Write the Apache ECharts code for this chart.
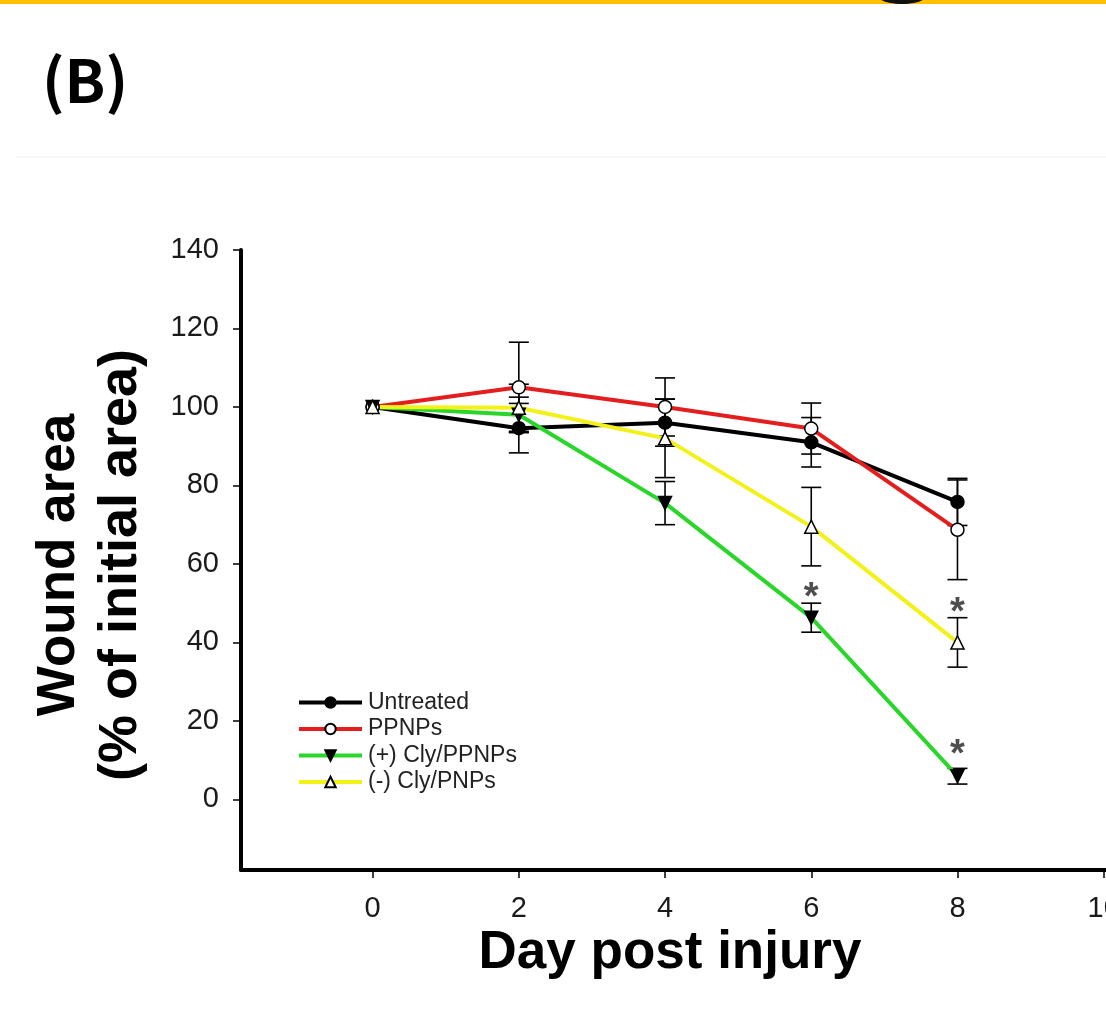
<!DOCTYPE html>
<html>
<head>
<meta charset="utf-8">
<script src="https://cdn.jsdelivr.net/npm/echarts@6/dist/echarts.min.js"></script>
<style>
  html, body { margin: 0; padding: 0; background: #fff; }
  #chart { width: 1106px; height: 1009px; }
</style>
</head>
<body>
<div id="chart"></div>
<script>
// days and y ticks
var days = [0, 2, 4, 6, 8];
var xTicks = [0, 2, 4, 6, 8, 10];
var yTicks = [0, 20, 40, 60, 80, 100, 120, 140];

// wound area (% of initial) and error
var untreated = [100, 94.6, 96, 91, 75.8];
var untreatedErr = [0, 6.3, 6, 6.3, 6];
var ppnps = [100, 105, 100, 94.5, 68.7];
var ppnpsErr = [0, 11.5, 7.4, 6.5, 12.7];
var clyPos = [100, 98, 75.5, 46.3, 5.9];
var clyPosErr = [0, 4.5, 5.5, 3.7, 2];
var clyNeg = [100, 99.8, 92, 69.5, 40];
var clyNegErr = [0, 6, 10, 10, 6.3];

// significance marks
var stars = [[6, 53.5], [8, 49.7], [8, 13.5]];

var names = ['Untreated', 'PPNPs', '(+) Cly/PPNPs', '(-) Cly/PNPs'];

var font = 'Liberation Sans, Arial, sans-serif';

var pairs = function (ys) {
    return days.map(function (d, i) { return [d, ys[i]]; });
};

// error bar rows: [x, low, high]
var errRows = [];
[[untreated, untreatedErr], [ppnps, ppnpsErr], [clyPos, clyPosErr], [clyNeg, clyNegErr]].forEach(function (s) {
    for (var i = 0; i < days.length; i++) {
        if (s[1][i] > 0)
            errRows.push([days[i], s[0][i] - s[1][i], s[0][i] + s[1][i]]);
    }
});

var lineSeries = function (name, ys, lineColor, symbol, fill, rotate) {
    return {
        name: name,
        type: 'line',
        data: pairs(ys),
        symbol: symbol,
        symbolSize: 13,
        symbolRotate: rotate || 0,
        lineStyle: { color: lineColor, width: 4 },
        itemStyle: { color: fill, borderColor: '#000', borderWidth: 1.5 },
        emphasis: { disabled: true },
        z: 2
    };
};

var chart = echarts.init(document.getElementById('chart'));

var option = {
    backgroundColor: '#fff',
    animation: false,
    grid: { left: 241, top: 250, right: -5, bottom: 139, outerBoundsMode: 'none', containLabel: false },
    xAxis: {
        type: 'value',
        min: -1.8,
        max: 10.1,
        splitLine: { show: false },
        axisLine: { onZero: false, lineStyle: { color: '#000', width: 4 } },
        axisTick: { customValues: xTicks, length: 8, lineStyle: { color: '#000', width: 1.5 } },
        axisLabel: { customValues: xTicks, margin: 24, fontSize: 29, color: '#1a1a1a', fontFamily: font, hideOverlap: false }
    },
    yAxis: {
        type: 'value',
        min: -18,
        max: 140,
        splitLine: { show: false },
        axisLine: { show: true, onZero: false, lineStyle: { color: '#000', width: 4 } },
        axisTick: { show: true, customValues: yTicks, length: 8, lineStyle: { color: '#000', width: 1.5 } },
        axisLabel: { customValues: yTicks, margin: 22, fontSize: 29, color: '#1a1a1a', fontFamily: font }
    },
    legend: {
        data: names,
        orient: 'vertical',
        left: 297,
        top: 691,
        padding: 0,
        itemWidth: 63,
        itemHeight: 13,
        itemGap: 3.5,
        lineStyle: { width: 4 },
        textStyle: { fontSize: 23, lineHeight: 20, color: '#222', fontFamily: font, padding: [0, 0, 0, 1] },
        selectedMode: false
    },
    series: [
        {
            type: 'custom',
            name: 'err',
            data: errRows,
            z: 1,
            silent: true,
            renderItem: function (params, api) {
                var top = api.coord([api.value(0), api.value(2)]);
                var bot = api.coord([api.value(0), api.value(1)]);
                var w = 10;
                var st = { stroke: '#000', lineWidth: 1.6 };
                return {
                    type: 'group',
                    children: [
                        { type: 'line', shape: { x1: top[0], y1: top[1], x2: bot[0], y2: bot[1] }, style: st },
                        { type: 'line', shape: { x1: top[0] - w, y1: top[1], x2: top[0] + w, y2: top[1] }, style: st },
                        { type: 'line', shape: { x1: bot[0] - w, y1: bot[1], x2: bot[0] + w, y2: bot[1] }, style: st }
                    ]
                };
            }
        },
        lineSeries(names[0], untreated, '#000', 'circle', '#000'),
        lineSeries(names[1], ppnps, '#e41e1e', 'circle', '#fff'),
        lineSeries(names[2], clyPos, '#2ad62a', 'triangle', '#000', 180),
        lineSeries(names[3], clyNeg, '#f2f21a', 'triangle', '#fff'),
        {
            type: 'scatter',
            name: 'sig',
            data: stars,
            symbolSize: 0,
            silent: true,
            label: {
                show: true,
                position: 'inside',
                formatter: '*',
                fontSize: 38,
                fontWeight: 'bold',
                color: '#222',
                fontFamily: font,
                offset: [0, 9]
            },
            z: 5
        }
    ],
    graphic: [
        { type: 'rect', shape: { x: 0, y: 0, width: 1106, height: 4 }, style: { fill: '#ffc000' } },
        { type: 'ellipse', shape: { cx: 902, cy: -4, rx: 24, ry: 8 }, style: { fill: '#111' } },
        { type: 'line', shape: { x1: 15, y1: 157, x2: 1106, y2: 157 }, style: { stroke: '#f2f2f2', lineWidth: 1 } },
        {
            type: 'text', x: 85, y: 80,
            style: { text: '(B)', font: 'bold 60px "Noto Sans CJK KR", "Noto Sans", sans-serif', fill: '#000', textAlign: 'center', textVerticalAlign: 'middle' }
        },
        {
            type: 'text', x: 59, y: 565, rotation: Math.PI / 2,
            style: { text: 'Wound area', font: 'bold 53px ' + font, fill: '#000', textAlign: 'center', textVerticalAlign: 'middle' }
        },
        {
            type: 'text', x: 121, y: 565, rotation: Math.PI / 2,
            style: { text: '(% of initial area)', font: 'bold 54px ' + font, fill: '#000', textAlign: 'center', textVerticalAlign: 'middle' }
        },
        {
            type: 'text', x: 670, y: 953,
            style: { text: 'Day post injury', font: 'bold 53px ' + font, fill: '#000', textAlign: 'center', textVerticalAlign: 'middle' }
        }
    ]
};

chart.setOption(option);
</script>
</body>
</html>
